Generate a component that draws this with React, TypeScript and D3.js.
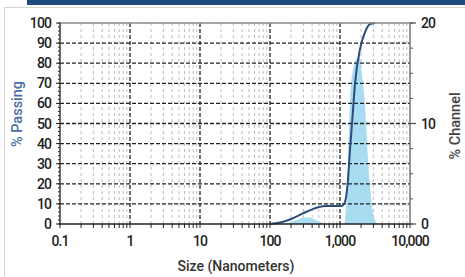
import React from "react";
import * as d3 from "d3";

// cumulative % passing (size in nm)
const passSize = [100, 150, 200, 300, 400, 500, 650, 1000, 1100, 1200, 1300, 1390, 1500, 1640, 1930, 2280, 2680, 3160];
const passValue = [0, 1, 2.5, 5.4, 7.3, 8.5, 9, 8.9, 9.3, 12, 22, 37, 52, 70, 87, 95.5, 99.5, 100];

// % channel histogram
const chanSize = [150, 200, 250, 300, 340, 400, 500, 650, 1150, 1250, 1300, 1400, 1550, 1750, 1900, 2050, 2250, 2550, 2950, 3400];
const chanValue = [0, 0.2, 0.45, 0.62, 0.67, 0.55, 0.25, 0, 0, 3, 6, 12.5, 15.5, 16.5, 16.6, 15, 12.3, 5.7, 1.2, 0];

const xTicks = [0.1, 1, 10, 100, 1000, 10000];
const xTickLabels = ["0.1", "1", "10", "100", "1,000", "10,000"];
const yTicks = [0, 10, 20, 30, 40, 50, 60, 70, 80, 90, 100];
const y2Ticks = [0, 10, 20];

const W = 465;
const H = 277;
const m = { left: 60, right: 410, top: 23, bottom: 224 };
const font = "Roboto, 'Noto Sans', sans-serif";

export default function App() {
  const x = d3.scaleLog().domain([0.1, 10000]).range([m.left, m.right]);
  const y = d3.scaleLinear().domain([0, 100]).range([m.bottom, m.top]);
  const y2 = d3.scaleLinear().domain([0, 20]).range([m.bottom, m.top]);

  // minor log positions 2..9 in each decade
  const minors: number[] = [];
  for (let d = 0.1; d < 10000; d *= 10) {
    for (let k = 2; k <= 9; k++) minors.push(+(d * k).toPrecision(3));
  }
  const yMinor = d3.range(0, 101, 2);
  const y2Minor = d3.range(0, 20.01, 2.5);

  const area = d3
    .area<number>()
    .x((d, i) => x(chanSize[i]))
    .y0(m.bottom)
    .y1((d) => y2(d))
    .curve(d3.curveMonotoneX);

  const line = d3
    .line<number>()
    .x((d, i) => x(passSize[i]))
    .y((d) => y(d))
    .curve(d3.curveMonotoneX);

  return (
    <svg
      width={W}
      height={H}
      style={{ position: "absolute", left: 0, top: 0, background: "#fff" }}
      fontFamily={font}
    >
      <rect x={27} y={0} width={W - 27} height={5} fill="#1f4a7c" />
      <rect x={4.5} y={7.5} width={W + 10} height={H + 10} fill="none" stroke="#d4d4d4" />

      {/* minor vertical grid */}
      {minors.map((v) => (
        <line
          key={"mv" + v}
          x1={x(v)}
          x2={x(v)}
          y1={m.top}
          y2={m.bottom}
          stroke="#bdbdbd"
          strokeDasharray="3,3"
        />
      ))}

      <path d={area(chanValue) || ""} fill="#a8dcf0" />

      {/* major grid */}
      {xTicks.slice(1, -1).map((v) => (
        <line
          key={"v" + v}
          x1={x(v)}
          x2={x(v)}
          y1={m.top}
          y2={m.bottom}
          stroke="#222"
          strokeWidth={1.3}
          strokeDasharray="4,2"
        />
      ))}
      {yTicks.slice(1, -1).map((v) => (
        <line
          key={"h" + v}
          x1={m.left}
          x2={m.right}
          y1={y(v)}
          y2={y(v)}
          stroke="#222"
          strokeWidth={1.3}
          strokeDasharray="4,2"
        />
      ))}

      <path d={line(passValue) || ""} fill="none" stroke="#2c4c7c" strokeWidth={2} />

      {/* frame */}
      <line x1={m.left} x2={m.right} y1={m.top} y2={m.top} stroke="#8a8a8a" strokeWidth={1.5} />
      <line x1={m.right} x2={m.right} y1={m.top} y2={m.bottom} stroke="#777" strokeWidth={1.5} />
      <line x1={m.left} x2={m.left} y1={m.top} y2={m.bottom} stroke="#222" strokeWidth={1.3} />
      <line x1={m.left - 1} x2={m.right} y1={m.bottom} y2={m.bottom} stroke="#222" strokeWidth={1.3} />

      {/* x ticks */}
      {minors.map((v) => (
        <line key={"xt" + v} x1={x(v)} x2={x(v)} y1={m.bottom} y2={m.bottom + 4} stroke="#222" />
      ))}
      {xTicks.map((v, i) => (
        <g key={"xl" + v}>
          <line x1={x(v)} x2={x(v)} y1={m.bottom} y2={m.bottom + 4} stroke="#222" />
          <text
            x={x(v)}
            y={m.bottom + 22}
            textAnchor="middle"
            fontSize={14}
            fontWeight={500}
            letterSpacing={-0.9}
            fill="#222"
          >
            {xTickLabels[i]}
          </text>
        </g>
      ))}

      {/* left y ticks */}
      {yMinor.map((v) => (
        <line key={"ym" + v} x1={m.left - 2} x2={m.left} y1={y(v)} y2={y(v)} stroke="#222" />
      ))}
      {yTicks.map((v) => (
        <g key={"yl" + v}>
          <line x1={m.left - 4} x2={m.left} y1={y(v)} y2={y(v)} stroke="#222" />
          <text
            x={m.left - 9}
            y={y(v)}
            dy="0.36em"
            textAnchor="end"
            fontSize={14}
            fontWeight={500}
            letterSpacing={-0.9}
            fill="#222"
          >
            {v}
          </text>
        </g>
      ))}

      {/* right y ticks */}
      {y2Minor.map((v) => (
        <line key={"y2m" + v} x1={m.right} x2={m.right + 3} y1={y2(v)} y2={y2(v)} stroke="#555" />
      ))}
      {y2Ticks.map((v) => (
        <g key={"y2l" + v}>
          <line x1={m.right} x2={m.right + 6} y1={y2(v)} y2={y2(v)} stroke="#555" strokeWidth={1.3} />
          <text
            x={m.right + 11}
            y={y2(v)}
            dy="0.36em"
            fontSize={14}
            fontWeight={500}
            letterSpacing={-0.9}
            fill="#222"
          >
            {v}
          </text>
        </g>
      ))}

      <text
        transform="translate(22,114) rotate(-90)"
        textAnchor="middle"
        fontSize={14.5}
        fontWeight={500}
        fill="#4a6ea6"
      >
        % Passing
      </text>
      <text
        transform="translate(460,126) rotate(-90)"
        textAnchor="middle"
        fontSize={14.5}
        fontWeight={500}
        fill="#444"
      >
        % Channel
      </text>
      <text x={236} y={271} textAnchor="middle" fontSize={14} fontWeight={500} fill="#333">
        Size (Nanometers)
      </text>
    </svg>
  );
}
